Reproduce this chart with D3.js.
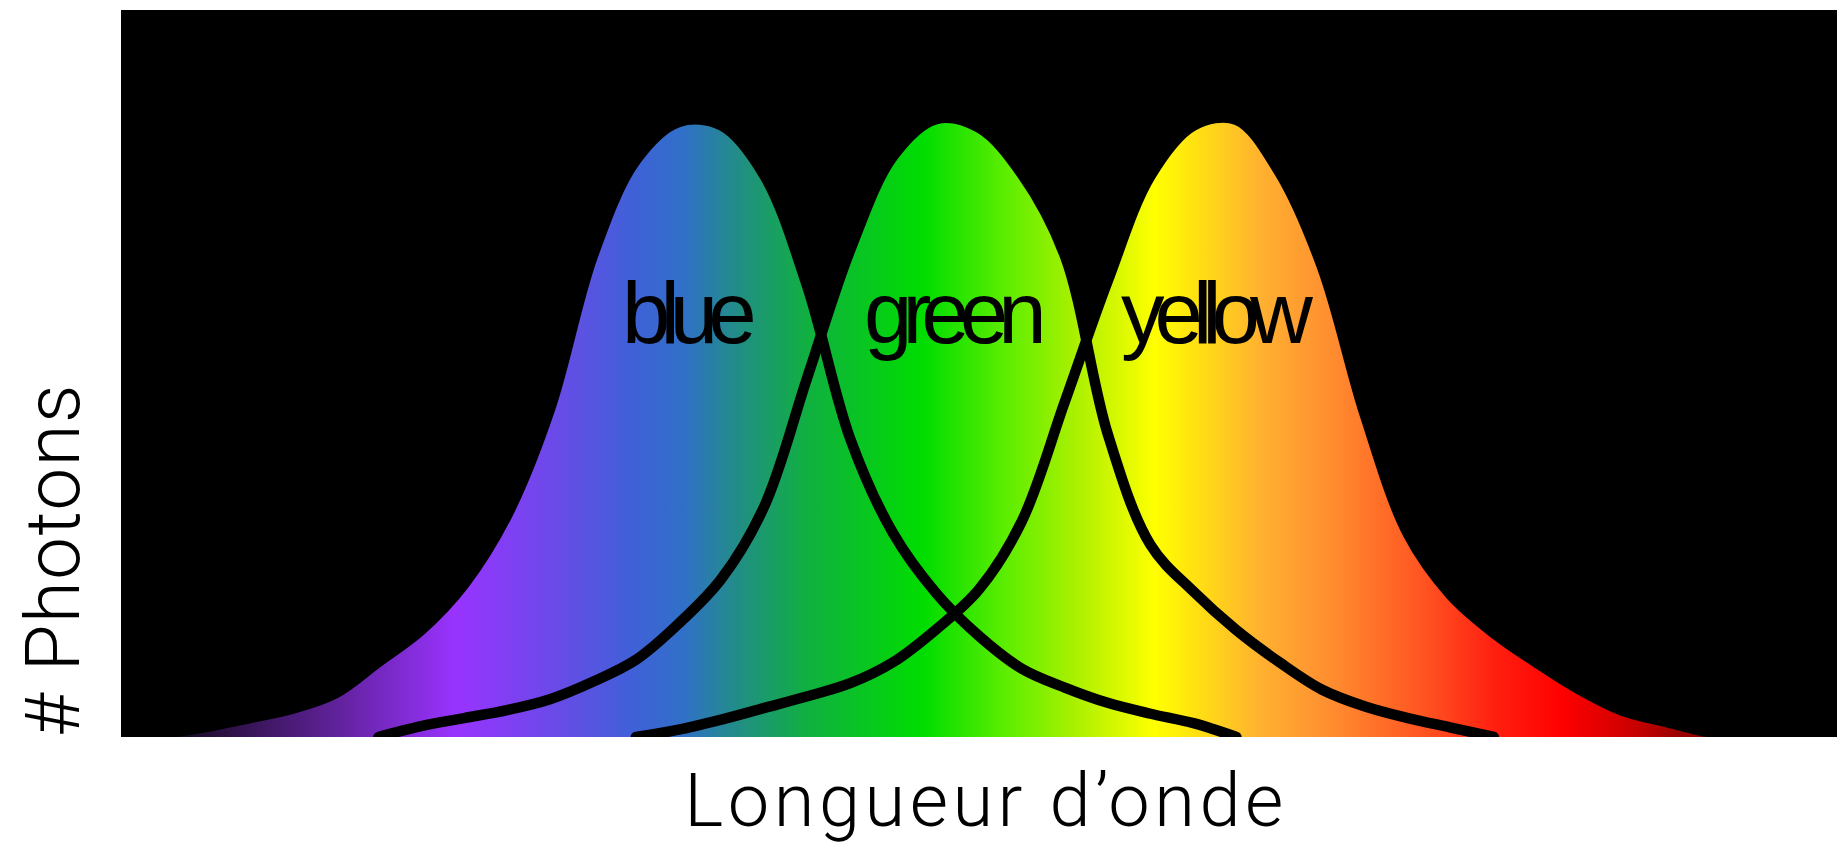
<!DOCTYPE html>
<html>
<head>
<meta charset="utf-8">
<script src="https://cdn.jsdelivr.net/npm/d3@7"></script>
<style>
  html, body { margin: 0; padding: 0; background: #ffffff; }
  svg { display: block; }
</style>
</head>
<body>
<svg id="chart" width="1837" height="847"></svg>
<script>
// ---------- data ----------
const wavelengths = [380, 390, 400, 410, 420, 430, 440, 450, 460, 470,
                     480, 490, 500, 510, 520, 530, 540, 550, 560, 570,
                     580, 590, 600, 610, 620, 630, 640, 650, 660, 670,
                     680, 690, 700, 710, 720, 730, 740, 750, 760, 770, 780];

const blueValues = [0, 0.5, 1.4, 2.6, 3.9, 6.0, 10.3, 14.7, 21.0, 30.5,
                    45.1, 66.2, 79.3, 84.6, 84.1, 77.2, 61.9, 41.0, 28.0, 19.8,
                    13.9, 9.4, 6.8, 4.7, 3.2, 1.9, 0, null, null, null,
                    null, null, null, null, null, null, null, null, null, null, null];

const greenValues = [null, null, null, null, null, null, 0, 1.5, 2.6, 3.7,
                     5.2, 7.6, 10.6, 15.6, 21.8, 31.8, 49.5, 67.0, 79.9, 85.0,
                     83.8, 77.4, 66.2, 41.7, 26.4, 20.0, 14.7, 10.3, 6.5, 4.2,
                     2.6, 1.3, 0, null, null, null, null, null, null, null, null];

const yellowValues = [null, null, null, null, null, null, null, null, null, null,
                      null, null, 0, 1.0, 2.4, 4.0, 5.6, 7.4, 10.3, 14.8,
                      20.3, 29.7, 46.1, 62.7, 77.2, 84.1, 84.9, 77.7, 64.6, 44.2,
                      27.9, 19.5, 14.3, 10.2, 6.5, 3.6, 2.1, 0.65, 0, null, null];

const seriesNames = ["blue", "green", "yellow"];
const labelWavelengths = [512, 574, 635];
const labelLevel = 54.2;

// spectrum colours along the wavelength axis
const spectrumStops = [380, 391, 403, 427, 458, 481, 499, 511, 525, 540,
                       567, 587, 602, 621, 646, 661, 685, 700, 716, 731, 742, 780];
const spectrumColors = ["#000000", "#100818", "#2a1040", "#5a2090", "#9933ff", "#6a4ae8",
                        "#4060d8", "#3070c8", "#209080", "#10b040", "#00dd00", "#60ee00",
                        "#a8f000", "#ffff00", "#ffb030", "#ff9030", "#ff5020", "#ff2010",
                        "#ff0000", "#d00000", "#a00000", "#400000"];

const xTitle = "Longueur d\u2019onde";
const yTitle = "# Photons";

// ---------- layout ----------
const plot = { left: 121, right: 1837, top: 10, bottom: 737 };

const svg = d3.select("#chart");

const x = d3.scaleLinear().domain([380, 780]).range([plot.left, plot.right]);
const y = d3.scaleLinear().domain([0, 100]).range([plot.bottom, plot.top]);

const defs = svg.append("defs");

defs.append("clipPath").attr("id", "plotClip")
  .append("rect")
  .attr("x", plot.left).attr("y", plot.top)
  .attr("width", plot.right - plot.left).attr("height", plot.bottom - plot.top);

const grad = defs.append("linearGradient")
  .attr("id", "spectrum")
  .attr("gradientUnits", "userSpaceOnUse")
  .attr("x1", x(380)).attr("x2", x(780))
  .attr("y1", 0).attr("y2", 0);

spectrumStops.forEach((w, i) => {
  grad.append("stop")
    .attr("offset", (x(w) - x(380)) / (x(780) - x(380)))
    .attr("stop-color", spectrumColors[i]);
});

// background
svg.append("rect")
  .attr("x", plot.left).attr("y", plot.top)
  .attr("width", plot.right - plot.left).attr("height", plot.bottom - plot.top)
  .attr("fill", "#000000");

const g = svg.append("g").attr("clip-path", "url(#plotClip)");

const allSeries = [blueValues, greenValues, yellowValues].map(vals =>
  wavelengths.map((w, i) => ({ w, v: vals[i] }))
);

const curve = d3.curveCatmullRom.alpha(0.5);

const area = d3.area()
  .defined(d => d.v !== null)
  .x(d => x(d.w))
  .y0(y(0))
  .y1(d => y(d.v))
  .curve(curve);

const line = d3.line()
  .defined(d => d.v !== null)
  .x(d => x(d.w))
  .y(d => y(d.v))
  .curve(curve);

g.selectAll("path.fill")
  .data(allSeries)
  .join("path")
  .attr("class", "fill")
  .attr("d", area)
  .attr("fill", "url(#spectrum)");

g.selectAll("path.curve")
  .data(allSeries)
  .join("path")
  .attr("class", "curve")
  .attr("d", line)
  .attr("fill", "none")
  .attr("stroke", "#000000")
  .attr("stroke-width", 10.5)
  .attr("stroke-linejoin", "round")
  .attr("stroke-linecap", "round");

// series labels
g.selectAll("text.label")
  .data(seriesNames)
  .join("text")
  .attr("class", "label")
  .attr("x", (d, i) => x(labelWavelengths[i]) - 3)
  .attr("y", y(labelLevel))
  .attr("text-anchor", "middle")
  .attr("font-family", "'Liberation Sans', Arial, Helvetica, sans-serif")
  .attr("font-size", 87)
  .attr("letter-spacing", -10)
  .attr("fill", "#000000")
  .text(d => d);

// axis titles
svg.append("text")
  .attr("x", 986)
  .attr("y", 826)
  .attr("text-anchor", "middle")
  .attr("font-family", "Roboto, 'Liberation Sans', sans-serif")
  .attr("font-weight", 300)
  .attr("font-size", 74)
  .attr("letter-spacing", 4.5)
  .attr("fill", "#000000")
  .text(xTitle);

svg.append("text")
  .attr("transform", "translate(79,560) rotate(-90)")
  .attr("text-anchor", "middle")
  .attr("font-family", "Roboto, 'Liberation Sans', sans-serif")
  .attr("font-weight", 300)
  .attr("font-size", 76)
  .attr("letter-spacing", 1.5)
  .attr("fill", "#000000")
  .text(yTitle);
</script>
</body>
</html>
